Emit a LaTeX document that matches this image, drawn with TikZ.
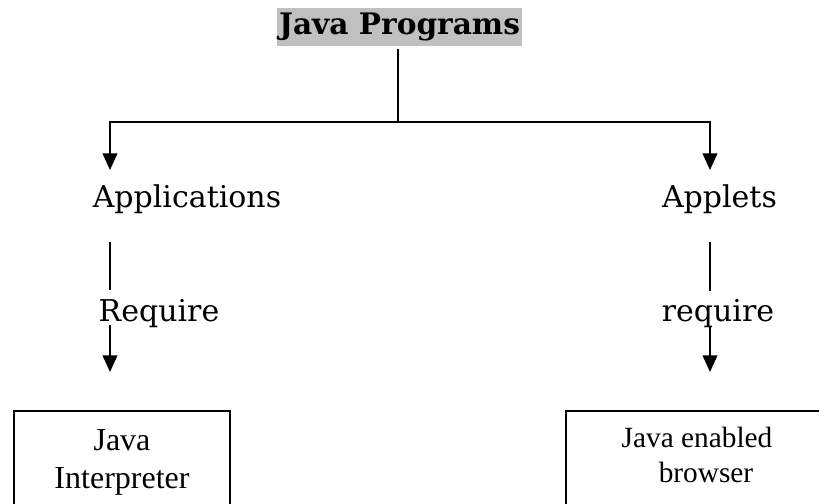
\documentclass[tikz,border=0pt]{standalone}
\usepackage{fontspec}
\setmainfont{DejaVu Serif}
\newfontfamily\tnr{Liberation Serif}
\usetikzlibrary{arrows.meta}
\definecolor{titlegray}{HTML}{C0C0C0}
\tikzset{
  conn/.style={line width=1.5pt, black},
  arr/.style={conn, -{Triangle[length=12.5pt,width=11pt]}},
  lbl/.style={anchor=base, inner sep=0pt, font=\fontsize{22.5}{26}\selectfont},
  boxtxt/.style={anchor=base, inner sep=0pt, font=\tnr\fontsize{24}{28}\selectfont},
  boxr/.style={draw, line width=1.5pt}
}
\begin{document}
\begin{tikzpicture}[x=0.75pt, y=-0.75pt]
\useasboundingbox (0,0) rectangle (819,504);
\clip (0,0) rectangle (819,504);
% title
\node[fill=titlegray, inner sep=0pt, minimum width=183.75pt, minimum height=28.5pt,
      font=\bfseries\fontsize{22.2}{26}\selectfont] (title) at (399.5,27) {Java Programs};
\coordinate (j) at (398,122);
\coordinate (lt) at (110,170);
\coordinate (rt) at (710,170);
\draw[conn] (398,49) -- (j);
\draw[arr] (j) -| (lt);
\draw[arr] (j) -| (rt);
% level 2
\node[lbl] (app) at (187,207) {Applications};
\node[lbl] (apl) at (719.5,207) {Applets};
\coordinate (l1) at (110,242); \coordinate (l2) at (110,290);
\coordinate (r1) at (710,242); \coordinate (r2) at (710,291);
\draw[conn] (l1) -- (l2);
\draw[conn] (r1) -- (r2);
\node[lbl] (req) at (159,321) {Require};
\node[lbl] (reqr) at (718,321) {require};
\coordinate (l3) at (110,325); \coordinate (l4) at (110,372);
\coordinate (r3) at (710,327); \coordinate (r4) at (710,372);
\draw[arr] (l3) -- (l4);
\draw[arr] (r3) -- (r4);
% boxes
\draw[boxr] (14,530) -- (14,411) -- (230,411) -- (230,530);
\draw[boxr] (566,530) -- (566,411) -- (840,411);
\node[boxtxt] (j1) at (122,450) {Java};
\node[boxtxt] (j2) at (122,488) {Interpreter};
\node[boxtxt, font=\tnr\fontsize{22}{26}\selectfont] (b1) at (697,447) {Java enabled};
\node[boxtxt, font=\tnr\fontsize{22}{26}\selectfont] (b2) at (706,482) {browser};
\end{tikzpicture}
\end{document}
